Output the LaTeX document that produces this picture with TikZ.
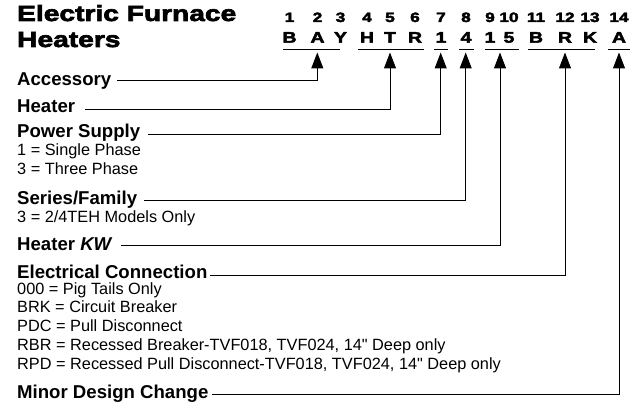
\documentclass[tikz,border=0pt]{standalone}
\usepackage{fontspec}
\setmainfont{Liberation Sans}
\newfontfamily\blackfont{Liberation Sans Bold}[FakeStretch=1.28,FakeBold=3]
\newcommand\straightq{\XeTeXglyph\XeTeXcharglyph"22\relax}
\usetikzlibrary{arrows.meta}
\begin{document}
\begin{tikzpicture}[x=1pt,y=-1pt,
  txt/.style={inner sep=0pt, anchor=base west},
  head/.style={txt, font=\fontsize{18.6}{20}\selectfont\bfseries},
  body/.style={txt, font=\fontsize{16.3}{18}\selectfont},
  titletxt/.style={txt, font=\fontsize{22}{24}\selectfont\blackfont},
  digit/.style={inner sep=0pt, anchor=base, font=\fontsize{13.5}{14}\selectfont\blackfont},
  letter/.style={inner sep=0pt, anchor=base, font=\fontsize{15.3}{16}\selectfont\blackfont},
  uline/.style={line width=1pt},
  conn/.style={line width=1pt, -{Triangle[width=12pt,length=16pt]}},
]
\useasboundingbox (0,0) rectangle (643,404);

% title
\node[titletxt] (t1) at (17,21) {Electric Furnace};
\node[titletxt] (t2) at (17,47) {Heaters};

% digit row and letter row
\foreach \i/\x/\l in {1/289.5/B,2/317.5/A,3/340.5/Y,4/367/H,5/390/T,6/415/R,7/441/1,8/466/4,9/490/1,10/509/5,11/536/B,12/565/R,13/590/K,14/619/A}{
  \node[digit] (d\i) at (\x,22) {\i};
  \node[letter] (l\i) at (\x,42.7) {\l};
}

% underlines
\draw[uline] (283,50) -- (340,50);
\draw[uline] (358,50) -- (424,50);
\draw[uline] (434,50) -- (448,50);
\draw[uline] (459,50) -- (474,50);
\draw[uline] (485,50) -- (519,50);
\draw[uline] (528,50) -- (595,50);
\draw[uline] (608,50) -- (630,50);

% arrow tips
\coordinate (tA) at (317.3,52.5);
\coordinate (tB) at (390,52.5);
\coordinate (tC) at (440.7,52.5);
\coordinate (tD) at (465.7,52.5);
\coordinate (tE) at (500,52.5);
\coordinate (tF) at (565,52.5);
\coordinate (tG) at (619,52.5);

% labels
\node[head] (acc) at (17,85) {Accessory};
\node[head] (heat) at (17,113) {Heater};
\node[head] (pow) at (17,137.5) {Power Supply};
\node[body] (p1) at (17,155.5) {1 = Single Phase};
\node[body] (p3) at (17,174) {3 = Three Phase};
\node[head] (ser) at (17,204) {Series/Family};
\node[body] (s3) at (17,222) {3 = 2/4TEH Models Only};
\node[head] (kw) at (17,250.5) {Heater \textit{KW}};
\node[head] (ec) at (17,278.5) {Electrical Connection};
\node[body] (e1) at (17,294) {000 = Pig Tails Only};
\node[body] (e2) at (17,312.8) {BRK = Circuit Breaker};
\node[body] (e3) at (17,331.6) {PDC = Pull Disconnect};
\node[body] (e4) at (17,350.4) {RBR = Recessed Breaker-TVF018, TVF024, 14\straightq{} Deep only};
\node[body] (e5) at (17,369.2) {RPD = Recessed Pull Disconnect-TVF018, TVF024, 14\straightq{} Deep only};
\node[head] (mdc) at (17,398) {Minor Design Change};

% connector start points
\coordinate (sA) at (117,81);
\coordinate (sB) at (85,109.5);
\coordinate (sC) at (148,134);
\coordinate (sD) at (144,200.5);
\coordinate (sE) at (121,245);
\coordinate (sF) at (210,275);
\coordinate (sG) at (212,394);

\draw[conn] (sA) -| (tA);
\draw[conn] (sB) -| (tB);
\draw[conn] (sC) -| (tC);
\draw[conn] (sD) -| (tD);
\draw[conn] (sE) -| (tE);
\draw[conn] (sF) -| (tF);
\draw[conn] (sG) -| (tG);
\end{tikzpicture}
\end{document}
